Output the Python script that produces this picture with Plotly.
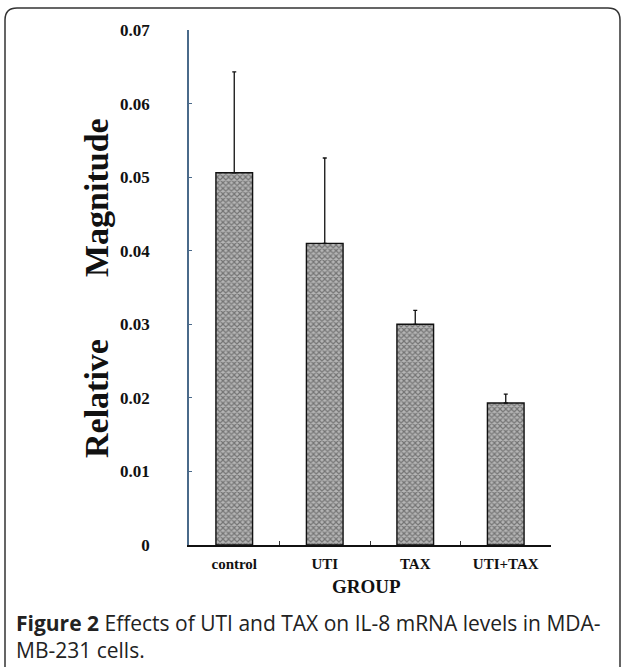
import plotly.graph_objects as go

# ---- data ----
categories = ["control", "UTI", "TAX", "UTI+TAX"]
means = [0.0506, 0.0410, 0.0300, 0.0193]
err_plus = [0.0137, 0.0116, 0.0019, 0.0012]
y_tickvals = [0, 0.01, 0.02, 0.03, 0.04, 0.05, 0.06, 0.07]
y_ticktext = ["0", "0.01", "0.02", "0.03", "0.04", "0.05", "0.06", "0.07"]

W, H = 624, 667
L, R, T, B = 189, 73, 30, 122
PW, PH = W - L - R, H - T - B


def px(x):
    return (x - L) / PW


def py(y):
    return (H - B - y) / PH


SERIF = "Liberation Serif, Times New Roman, serif"

fig = go.Figure()
fig.add_trace(go.Bar(
    x=categories, y=means, width=0.405,
    marker=dict(color="#b5b5b5",
                line=dict(color="#111", width=1.4),
                pattern=dict(shape="x", size=4, fgcolor="#333333", solidity=0.5)),
    error_y=dict(type="data", array=err_plus, arrayminus=[0] * len(err_plus),
                 symmetric=False, color="#111", thickness=1.3, width=2),
    showlegend=False,
))

# frame with rounded corners (pixel -> paper coords)
r = 12
x0, x1, y0, y1 = 5, 620, 8, 690
path = (f"M {px(x0)},{py(y1)} L {px(x0)},{py(y0 + r)} "
        f"Q {px(x0)},{py(y0)} {px(x0 + r)},{py(y0)} "
        f"L {px(x1 - r)},{py(y0)} Q {px(x1)},{py(y0)} {px(x1)},{py(y0 + r)} "
        f"L {px(x1)},{py(y1)}")
fig.add_shape(type="path", path=path, xref="paper", yref="paper",
              line=dict(color="#333", width=1.5), layer="above")

ann = [
    dict(text="<b>Magnitude</b>", x=px(96), y=py(198), textangle=-90,
         font=dict(family=SERIF, size=34, color="#111")),
    dict(text="<b>Relative</b>", x=px(96), y=py(399), textangle=-90,
         font=dict(family=SERIF, size=34, color="#111")),
    dict(text="<b>GROUP</b>", x=px(366), y=py(586),
         font=dict(family=SERIF, size=19, color="#111")),
    dict(text="<b>Figure 2</b> Effects of UTI and TAX on IL-8 mRNA levels in MDA-"
              "<br>MB-231 cells.",
         x=px(14), y=py(636), xanchor="left", align="left",
         font=dict(family="Open Sans, sans-serif", size=21, color="#222")),
]
for a in ann:
    a.setdefault("xanchor", "center")
    a.update(xref="paper", yref="paper", yanchor="middle", showarrow=False)

fig.update_layout(
    width=W, height=H,
    margin=dict(l=L, r=R, t=T, b=B),
    paper_bgcolor="white", plot_bgcolor="white",
    annotations=ann,
    bargap=0.6,
)
fig.update_xaxes(
    type="category", range=[-0.5, 3.5],
    showline=True, linecolor="#111", linewidth=2,
    ticks="inside", tickson="boundaries", ticklen=4, tickcolor="#333",
    showgrid=False, zeroline=False,
    tickfont=dict(family=SERIF, size=15, color="#111", weight="bold"),
    ticklabelstandoff=4,
)
fig.update_yaxes(
    range=[0, 0.07], tickvals=y_tickvals, ticktext=y_ticktext,
    showline=True, linecolor="#4a6a8a", linewidth=1.5,
    ticks="inside", ticklen=3, tickcolor="#4a6a8a",
    showgrid=False, zeroline=False,
    tickfont=dict(family=SERIF, size=17, color="#111", weight="bold"),
    ticklabelstandoff=34,
)

fig.write_html("out.html", config={"displayModeBar": False},
               post_script="document.body.style.margin='0';")
